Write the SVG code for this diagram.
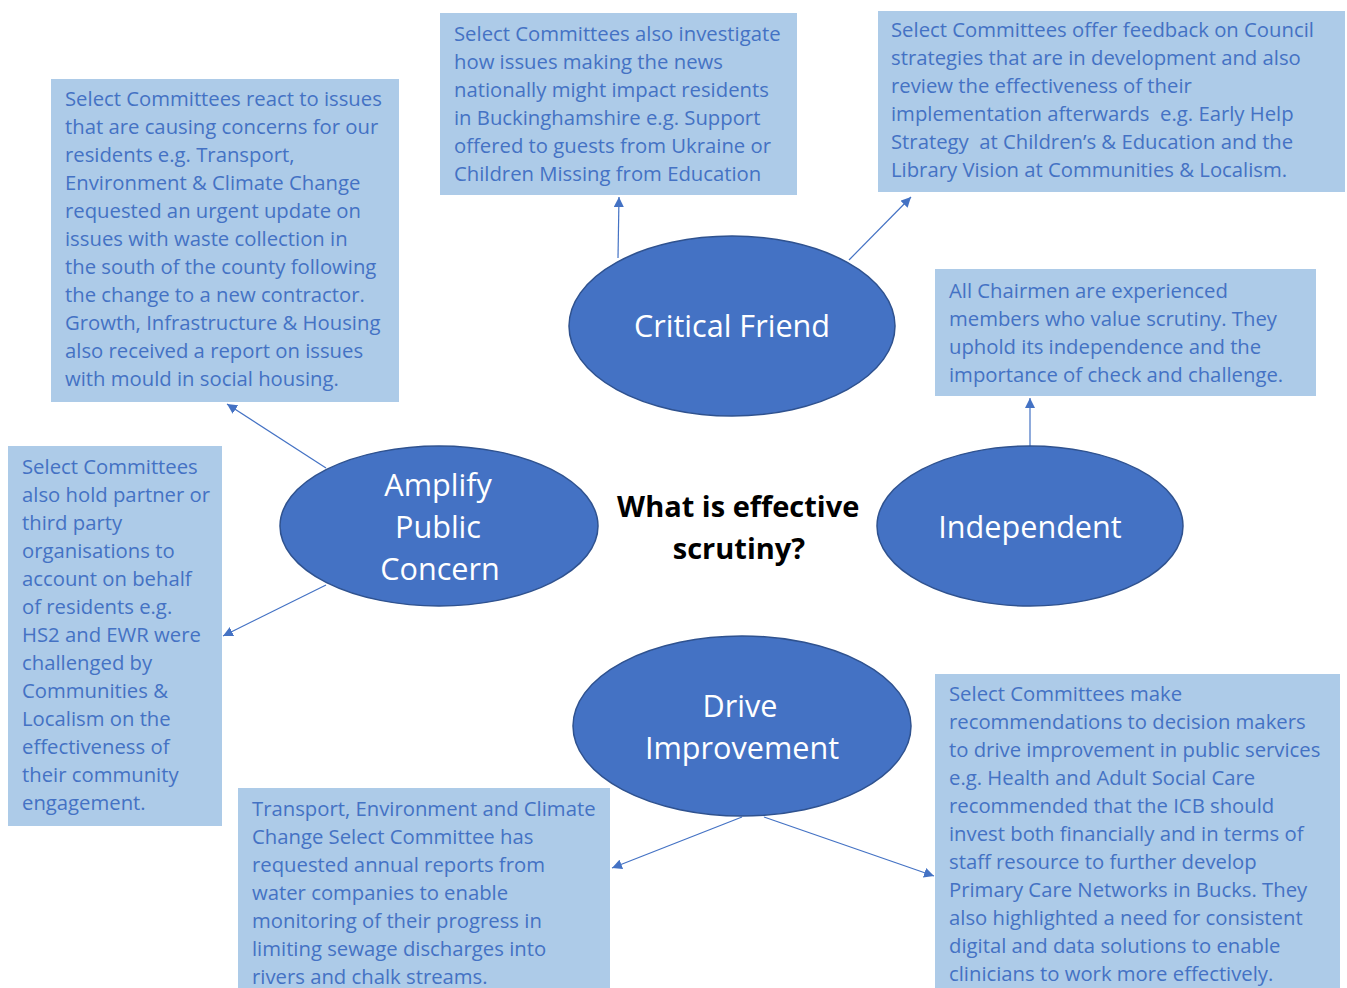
<svg xmlns="http://www.w3.org/2000/svg" width="1347" height="988" viewBox="0 0 1347 988">
<style>
.box{fill:#ADCBE8;}
.bt{font-family:"Open Sans","Noto Sans",sans-serif;font-size:20.3px;fill:#4472C4;white-space:pre;}
.ell{fill:#4472C4;stroke:#2F528F;stroke-width:1.5;}
.et{font-family:"Open Sans","Noto Sans",sans-serif;font-size:30.6px;fill:#FFFFFF;text-anchor:middle;}
.ct{font-family:"Open Sans","Noto Sans",sans-serif;font-size:29px;font-weight:bold;fill:#000000;text-anchor:middle;}
.con{stroke:#4472C4;stroke-width:1.2;fill:none;marker-end:url(#ah);}
</style>
<defs>
<marker id="ah" viewBox="0 0 10 10" refX="10" refY="5" markerWidth="10" markerHeight="10" markerUnits="userSpaceOnUse" orient="auto">
<path d="M0,0 L10,5 L0,10 Z" fill="#4472C4"/>
</marker>
</defs>
<rect width="1347" height="988" fill="#FFFFFF"/>

<g id="box-react">
<rect class="box" x="51" y="79" width="348" height="323"/>
<text class="bt">
<tspan x="65" y="106">Select Committees react to issues</tspan>
<tspan x="65" y="134">that are causing concerns for our</tspan>
<tspan x="65" y="162">residents e.g. Transport,</tspan>
<tspan x="65" y="190">Environment &amp; Climate Change</tspan>
<tspan x="65" y="218">requested an urgent update on</tspan>
<tspan x="65" y="246">issues with waste collection in</tspan>
<tspan x="65" y="274">the south of the county following</tspan>
<tspan x="65" y="302">the change to a new contractor.</tspan>
<tspan x="65" y="330">Growth, Infrastructure &amp; Housing</tspan>
<tspan x="65" y="358">also received a report on issues</tspan>
<tspan x="65" y="386">with mould in social housing.</tspan>
</text>
</g>

<g id="box-investigate">
<rect class="box" x="440" y="13" width="357" height="182"/>
<text class="bt">
<tspan x="454" y="41">Select Committees also investigate</tspan>
<tspan x="454" y="69">how issues making the news</tspan>
<tspan x="454" y="97">nationally might impact residents</tspan>
<tspan x="454" y="125">in Buckinghamshire e.g. Support</tspan>
<tspan x="454" y="153">offered to guests from Ukraine or</tspan>
<tspan x="454" y="181">Children Missing from Education</tspan>
</text>
</g>

<g id="box-feedback">
<rect class="box" x="878" y="11" width="467" height="181"/>
<text class="bt">
<tspan x="891" y="37">Select Committees offer feedback on Council</tspan>
<tspan x="891" y="65">strategies that are in development and also</tspan>
<tspan x="891" y="93">review the effectiveness of their</tspan>
<tspan x="891" y="121">implementation afterwards  e.g. Early Help</tspan>
<tspan x="891" y="149">Strategy  at Children’s &amp; Education and the</tspan>
<tspan x="891" y="177">Library Vision at Communities &amp; Localism.</tspan>
</text>
</g>

<g id="box-chairmen">
<rect class="box" x="935" y="269" width="381" height="127"/>
<text class="bt">
<tspan x="949" y="298">All Chairmen are experienced</tspan>
<tspan x="949" y="326">members who value scrutiny. They</tspan>
<tspan x="949" y="354">uphold its independence and the</tspan>
<tspan x="949" y="382">importance of check and challenge.</tspan>
</text>
</g>

<g id="box-partners">
<rect class="box" x="8" y="446" width="214" height="380"/>
<text class="bt">
<tspan x="22" y="474">Select Committees</tspan>
<tspan x="22" y="502">also hold partner or</tspan>
<tspan x="22" y="530">third party</tspan>
<tspan x="22" y="558">organisations to</tspan>
<tspan x="22" y="586">account on behalf</tspan>
<tspan x="22" y="614">of residents e.g.</tspan>
<tspan x="22" y="642">HS2 and EWR were</tspan>
<tspan x="22" y="670">challenged by</tspan>
<tspan x="22" y="698">Communities &amp;</tspan>
<tspan x="22" y="726">Localism on the</tspan>
<tspan x="22" y="754">effectiveness of</tspan>
<tspan x="22" y="782">their community</tspan>
<tspan x="22" y="810">engagement.</tspan>
</text>
</g>

<g id="box-transport">
<rect class="box" x="238" y="788" width="372" height="200"/>
<text class="bt">
<tspan x="252" y="816">Transport, Environment and Climate</tspan>
<tspan x="252" y="844">Change Select Committee has</tspan>
<tspan x="252" y="872">requested annual reports from</tspan>
<tspan x="252" y="900">water companies to enable</tspan>
<tspan x="252" y="928">monitoring of their progress in</tspan>
<tspan x="252" y="956">limiting sewage discharges into</tspan>
<tspan x="252" y="984">rivers and chalk streams.</tspan>
</text>
</g>

<g id="box-recommend">
<rect class="box" x="935" y="674" width="405" height="314"/>
<text class="bt">
<tspan x="949" y="701">Select Committees make</tspan>
<tspan x="949" y="729">recommendations to decision makers</tspan>
<tspan x="949" y="757">to drive improvement in public services</tspan>
<tspan x="949" y="785">e.g. Health and Adult Social Care</tspan>
<tspan x="949" y="813">recommended that the ICB should</tspan>
<tspan x="949" y="841">invest both financially and in terms of</tspan>
<tspan x="949" y="869">staff resource to further develop</tspan>
<tspan x="949" y="897">Primary Care Networks in Bucks. They</tspan>
<tspan x="949" y="925">also highlighted a need for consistent</tspan>
<tspan x="949" y="953">digital and data solutions to enable</tspan>
<tspan x="949" y="981">clinicians to work more effectively.</tspan>
</text>
</g>

<g id="connectors">
<line class="con" x1="618" y1="258" x2="619" y2="197"/>
<line class="con" x1="849" y1="260" x2="911" y2="197"/>
<line class="con" x1="326" y1="468" x2="227" y2="404"/>
<line class="con" x1="326" y1="585" x2="223" y2="636"/>
<line class="con" x1="1030" y1="446" x2="1030" y2="398"/>
<line class="con" x1="742" y1="817" x2="612" y2="868"/>
<line class="con" x1="764" y1="817" x2="934" y2="876"/>
</g>

<g id="node-critical-friend">
<ellipse class="ell" cx="732" cy="326" rx="163" ry="90"/>
<text class="et" x="732" y="337">Critical Friend</text>
</g>

<g id="node-amplify">
<ellipse class="ell" cx="439" cy="526" rx="159" ry="80"/>
<text class="et">
<tspan x="442" y="496">Amplify</tspan>
<tspan x="442" y="538">Public</tspan>
<tspan x="440" y="580">Concern</tspan>
</text>
</g>

<g id="node-independent">
<ellipse class="ell" cx="1030" cy="526" rx="153" ry="80"/>
<text class="et" x="1030" y="538">Independent</text>
</g>

<g id="node-drive">
<ellipse class="ell" cx="742" cy="726" rx="169" ry="90"/>
<text class="et">
<tspan x="744" y="717">Drive</tspan>
<tspan x="742" y="759">Improvement</tspan>
</text>
</g>

<g id="center-title">
<text class="ct">
<tspan x="742" y="517">What is effective</tspan>
<tspan x="739" y="559">scrutiny?</tspan>
</text>
</g>
</svg>
